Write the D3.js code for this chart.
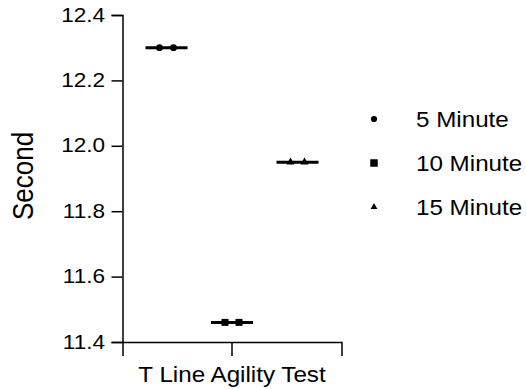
<!DOCTYPE html>
<html>
<head>
<meta charset="utf-8">
<script src="https://cdn.jsdelivr.net/npm/d3@7"></script>
<style>
html,body{margin:0;padding:0;background:#fff;}
text{font-family:"Liberation Sans", Arial, sans-serif;fill:#000;}
</style>
</head>
<body>
<svg id="chart" width="526" height="389"></svg>
<script>
const categories = ["T Line Agility Test"];
const seriesNames = ["5 Minute", "10 Minute", "15 Minute"];
const series5 = [12.30, 12.30];
const series10 = [11.46, 11.46];
const series15 = [11.95, 11.95];
const yTicks = [11.4, 11.6, 11.8, 12.0, 12.2, 12.4];
const yLabel = "Second";

const seriesValues = [series5, series10, series15];
const symbols = [d3.symbolCircle, d3.symbolSquare, d3.symbolTriangle];
const symSizes = [36, 49, 28];
const legendSizes = [30, 56, 20];

const svg = d3.select("#chart");
const sx = 1.1;
const FF = "Liberation Sans, Arial, sans-serif";
const plot = {left: 122.5, right: 341.5, top: 15, bottom: 342};

const y = d3.scaleLinear().domain([11.4, 12.4]).range([plot.bottom, plot.top]);
const x = d3.scaleBand().domain(categories).range([plot.left, plot.right]);
const inner = d3.scalePoint().domain(seriesNames).range([-65.5, 65.5]);
const rep = d3.scalePoint().domain([0, 1]).range([-7, 7]);

// y axis
const yAxis = svg.append("g").attr("transform", `translate(${plot.left},0)`)
  .call(d3.axisLeft(y).tickValues(yTicks).tickFormat(d3.format(".1f")).tickSizeOuter(0).tickSize(11).tickPadding(6));
yAxis.select(".domain").attr("stroke", "#000").attr("stroke-width", 1.5);
yAxis.selectAll(".tick line").attr("stroke", "#000").attr("stroke-width", 1.5);
yAxis.selectAll(".tick text")
  .attr("font-size", 20.5).attr("font-family", FF).attr("fill", "#000")
  .attr("x", -17.5 / sx).attr("dy", "0.3em")
  .attr("transform", `scale(${sx},1)`);

// x axis
const xAxis = svg.append("g").attr("transform", `translate(0,${plot.bottom})`)
  .call(d3.axisBottom(x).tickSizeOuter(0).tickSize(14).tickPadding(6));
xAxis.select(".domain").attr("stroke", "#000").attr("stroke-width", 1.5);
xAxis.selectAll(".tick line").attr("stroke", "#000").attr("stroke-width", 1.5);
xAxis.selectAll(".tick text")
  .attr("font-size", 22).attr("font-family", FF).attr("fill", "#000")
  .attr("y", 40).attr("dy", 0)
  .attr("transform", `scale(${sx},1)`);

// y label
svg.append("text")
  .attr("transform", `translate(33.3,176) rotate(-90) scale(1,${sx})`)
  .attr("text-anchor", "middle")
  .attr("font-size", 26)
  .text(yLabel);

// data
const cx = x(categories[0]) + x.bandwidth() / 2;
seriesNames.forEach((name, i) => {
  const vals = seriesValues[i];
  const gx = cx + inner(name);
  const mean = d3.mean(vals);
  svg.append("line")
    .attr("x1", gx - 21).attr("x2", gx + 21)
    .attr("y1", y(mean)).attr("y2", y(mean))
    .attr("stroke", "#000").attr("stroke-width", 3);
  svg.selectAll(null).data(vals).enter().append("path")
    .attr("d", d3.symbol().type(symbols[i]).size(symSizes[i]))
    .attr("transform", (d, j) => `translate(${gx + rep(j)},${y(d)})`)
    .attr("fill", "#000");
});

// legend
const lg = svg.append("g");
seriesNames.forEach((name, i) => {
  const base = 127 + i * 44;
  lg.append("path")
    .attr("d", d3.symbol().type(symbols[i]).size(legendSizes[i]))
    .attr("transform", `translate(374,${base - 8})`)
    .attr("fill", "#000");
  lg.append("text")
    .attr("transform", `translate(416,${base}) scale(${sx},1)`)
    .attr("font-size", 22)
    .text(name);
});
</script>
</body>
</html>
